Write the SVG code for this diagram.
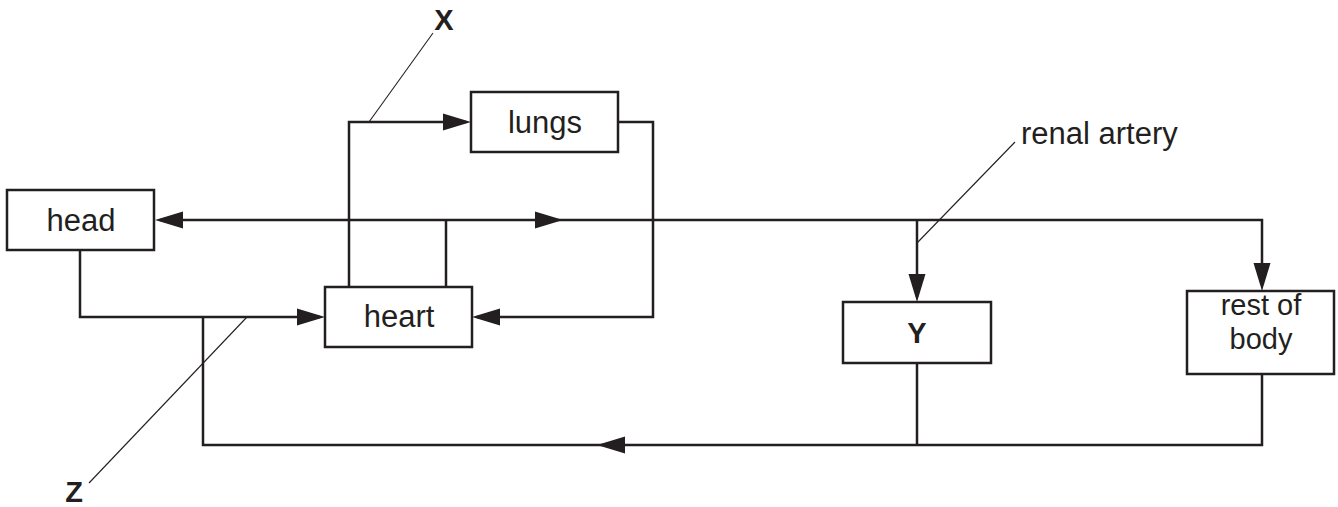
<svg xmlns="http://www.w3.org/2000/svg" width="1338" height="507" viewBox="0 0 1338 507">
<style>
.box{fill:#fff;stroke:#231f20;stroke-width:2.5}
.ln{fill:none;stroke:#231f20;stroke-width:2.5;stroke-linejoin:miter}
.ptr{fill:none;stroke:#231f20;stroke-width:1.1}
.t{font-family:"Liberation Sans",Arial,sans-serif;font-size:31px;fill:#231f20;text-anchor:middle}
.b{font-weight:bold;font-size:29px}
.s{font-size:29px}
.ah{fill:#231f20}
</style>
<defs>
<path id="arr" class="ah" d="M0,0 L-28,-8.5 L-28,8.5 z"/>
</defs>
<rect width="1338" height="507" fill="#fff"/>
<g id="connectors">
<path class="ln" d="M446,287 V220"/>
<path class="ln" d="M160,220 H1262 V285"/>
<path class="ln" d="M917,220 V297"/>
<path class="ln" d="M349,287 V122 H466"/>
<path class="ln" d="M618,122 H653 V317 H477"/>
<path class="ln" d="M80,250 V317 H320"/>
<path class="ln" d="M1262,374 V445 H203 V317"/>
<path class="ln" d="M917,363 V445"/>
<use href="#arr" transform="translate(155,220) rotate(180)"/>
<use href="#arr" transform="translate(563,220)"/>
<use href="#arr" transform="translate(1262,291) rotate(90)"/>
<use href="#arr" transform="translate(917,302) rotate(90)"/>
<use href="#arr" transform="translate(471,122)"/>
<use href="#arr" transform="translate(472,317) rotate(180)"/>
<use href="#arr" transform="translate(325,317)"/>
<use href="#arr" transform="translate(597,445) rotate(180)"/>
<path class="ptr" d="M433,33 L369,122"/>
<path class="ptr" d="M89,483 L247,317"/>
<path class="ptr" d="M1015,142 L917,243"/>
</g>
<g id="head"><rect class="box" x="7" y="190" width="147" height="60"/><text class="t" x="81" y="231">head</text></g>
<g id="lungs"><rect class="box" x="471" y="92" width="147" height="60"/><text class="t" x="545" y="133">lungs</text></g>
<g id="heart"><rect class="box" x="325" y="287" width="147" height="60"/><text class="t" x="399" y="327">heart</text></g>
<g id="Y"><rect class="box" x="843" y="302" width="148" height="61"/><text class="t b" x="917" y="343">Y</text></g>
<g id="rest-of-body"><rect class="box" x="1187" y="291" width="147" height="83"/><text class="t s" x="1261" y="315">rest of</text><text class="t s" x="1261" y="349">body</text></g>
<g id="labels">
<text class="t b" x="444" y="30">X</text>
<text class="t b" x="74" y="502">Z</text>
<text class="t" x="1021" y="144" style="text-anchor:start">renal artery</text>
</g>
</svg>
